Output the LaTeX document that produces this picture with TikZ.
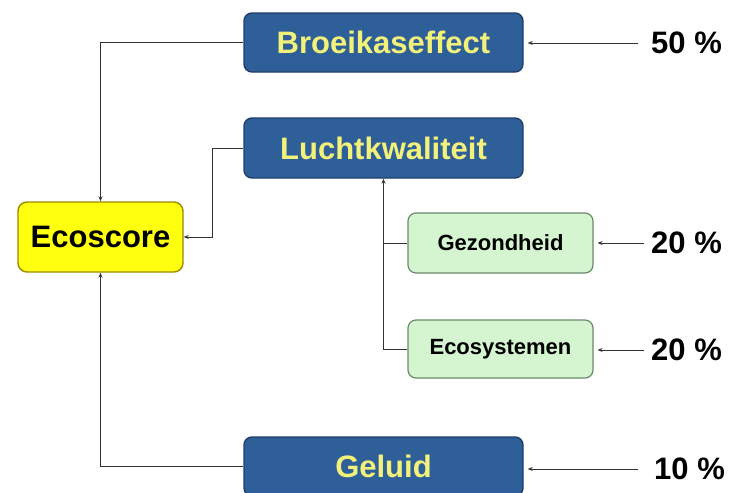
\documentclass[tikz,border=0pt]{standalone}
\usepackage{fontspec}
\setmainfont{Liberation Sans}
\usetikzlibrary{arrows.meta}
\definecolor{boxblue}{HTML}{2F5F98}
\definecolor{boxblueline}{HTML}{1F3F6A}
\definecolor{txtyellow}{HTML}{F2F27A}
\definecolor{ecoyellow}{HTML}{FFFF10}
\definecolor{ecoline}{HTML}{9C8A00}
\definecolor{greenfill}{HTML}{D4F5D0}
\definecolor{greenline}{HTML}{6A8A6A}
\definecolor{conn}{HTML}{333333}
\begin{document}
\begin{tikzpicture}[x=1pt,y=-1pt,
  bluebox/.style={draw=boxblueline, line width=1.4pt, fill=boxblue, rounded corners=8pt,
    minimum width=279pt, minimum height=59pt, inner sep=0pt,
    text=txtyellow, font=\fontsize{31}{32}\selectfont\bfseries},
  ecobox/.style={draw=ecoline, line width=1.4pt, fill=ecoyellow, rounded corners=9pt,
    minimum width=165pt, minimum height=70pt, inner sep=0pt,
    text=black, font=\fontsize{31}{32}\selectfont\bfseries},
  greenbox/.style={draw=greenline, line width=1.2pt, fill=greenfill, rounded corners=8pt,
    minimum width=185pt, minimum height=59pt, inner sep=0pt,
    text=black, font=\fontsize{22}{23}\selectfont\bfseries},
  pct/.style={anchor=west, inner sep=0pt, text=black, font=\fontsize{31}{32}\selectfont\bfseries},
  conline/.style={draw=conn, line width=0.9pt},
  arr/.style={conline, -{Stealth[length=5pt,width=4pt]}},
  inarr/.style={arr, shorten <=13pt, shorten >=4pt}
]
\useasboundingbox (0,0) rectangle (729,493);
\fill[white] (0,0) rectangle (729,493);

\node[bluebox] (broe) at (383.5,42.5) {Broeikaseffect};
\node[bluebox, minimum height=60pt] (luch) at (383.5,148) {Luchtkwaliteit};
\node[bluebox] (gel) at (383.5,466.5) {Geluid};
\node[ecobox] (eco) at (100.5,237) {Ecoscore};
\node[greenbox, minimum height=60pt] (gez) at (500.5,243) {Gezondheid};
\node[greenbox, minimum height=58pt] (ecos) at (500.5,349) {Ecosystemen};

\node[pct] (p50) at (651,43) {50 \%};
\node[pct] (p20a) at (651,243) {20 \%};
\node[pct] (p20b) at (651,350) {20 \%};
\node[pct] (p10) at (654,469) {10 \%};

\draw[arr] (broe.west) -| (eco.north);
\draw[arr] (luch.west) -- ++(-31,0) |- (eco.east);
\draw[arr] (gel.west) -| (eco.south);
\draw[arr] (ecos.west) -| (luch.south);
\draw[conline] (gez.west) -- (gez.west -| luch.south);

\draw[inarr] (p50.west) -- (p50.west -| broe.east);
\draw[inarr, shorten <=7pt] (p20a.west) -- (p20a.west -| gez.east);
\draw[inarr, shorten <=7pt] (p20b.west) -- (p20b.west -| ecos.east);
\draw[inarr, shorten <=16pt] (p10.west) -- (p10.west -| gel.east);
\end{tikzpicture}
\end{document}
